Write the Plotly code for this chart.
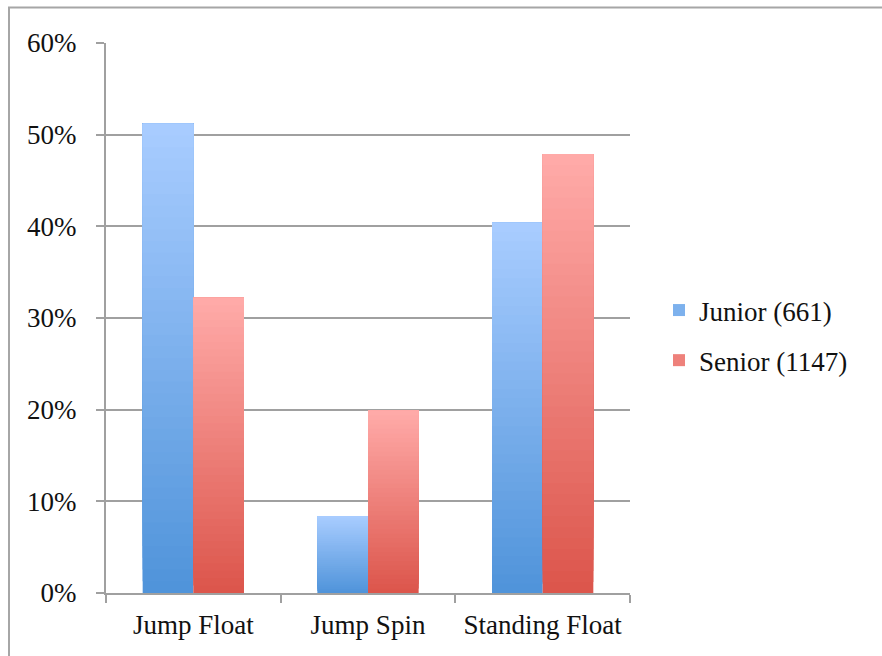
import plotly.graph_objects as go

categories = ["Jump Float", "Jump Spin", "Standing Float"]
junior = [51.2, 8.4, 40.4]
senior = [32.2, 19.9, 47.9]
series_names = ["Junior (661)", "Senior (1147)"]
y_ticks = [0, 10, 20, 30, 40, 50, 60]
y_tick_labels = ["0%", "10%", "20%", "30%", "40%", "50%", "60%"]

FONT = "Liberation Serif"
N = 40

def lerp(c1, c2, t):
    return "rgb(%d,%d,%d)" % tuple(round(a + (b - a) * t) for a, b in zip(c1, c2))

blue_top, blue_bot = (168, 204, 255), (80, 148, 218)
red_top, red_bot = (255, 170, 168), (220, 86, 76)

fig = go.Figure()
for name, vals, top, bot, grp in [
    (series_names[0], junior, blue_top, blue_bot, "j"),
    (series_names[1], senior, red_top, red_bot, "s"),
]:
    for k in range(N):
        t = k / (N - 1)
        fig.add_trace(go.Bar(
            x=categories,
            y=[v * (N - k) / N for v in vals],
            base=[v * k / N for v in vals],
            offsetgroup=grp,
            legendgroup=grp,
            name=name,
            showlegend=(k == N // 2),
            marker=dict(color=lerp(bot, top, t), line=dict(width=0)),
            hoverinfo="skip",
        ))

W, H = 882, 656
ml, mr, mt, mb = 106, 252, 43, 63
pw, ph = W - ml - mr, H - mt - mb

def px_x(px):
    return (px - ml) / pw

def px_y(py):
    return (H - mb - py) / ph

fig.add_shape(type="rect", xref="paper", yref="paper",
              x0=px_x(9), x1=px_x(W + 20), y0=px_y(H + 20), y1=px_y(7.5),
              line=dict(color="#A6A6A6", width=2), fillcolor="rgba(0,0,0,0)", layer="below")

fig.update_layout(
    width=W, height=H,
    margin=dict(l=ml, r=mr, t=mt, b=mb),
    paper_bgcolor="white", plot_bgcolor="white",
    barmode="group", bargap=0.42, bargroupgap=0,
    font=dict(family=FONT, size=27, color="#111111"),
    legend=dict(x=px_x(659), xanchor="left", y=px_y(286), yanchor="top",
                font=dict(family=FONT, size=27), tracegroupgap=12,
                bgcolor="rgba(0,0,0,0)"),
    xaxis=dict(type="category", tickson="boundaries", ticks="outside", ticklen=8,
               tickcolor="#A0A0A0", tickwidth=2, showline=True, linecolor="#A0A0A0",
               linewidth=2, showgrid=False, ticklabelstandoff=7),
    yaxis=dict(range=[0, 60], tickvals=y_ticks, ticktext=y_tick_labels,
               ticks="outside", ticklen=8, tickcolor="#A0A0A0", tickwidth=2,
               showline=True, linecolor="#A0A0A0", linewidth=2,
               showgrid=True, gridcolor="#A0A0A0", gridwidth=2,
               zeroline=False, ticklabelstandoff=14),
)

fig.write_html("out.html")
